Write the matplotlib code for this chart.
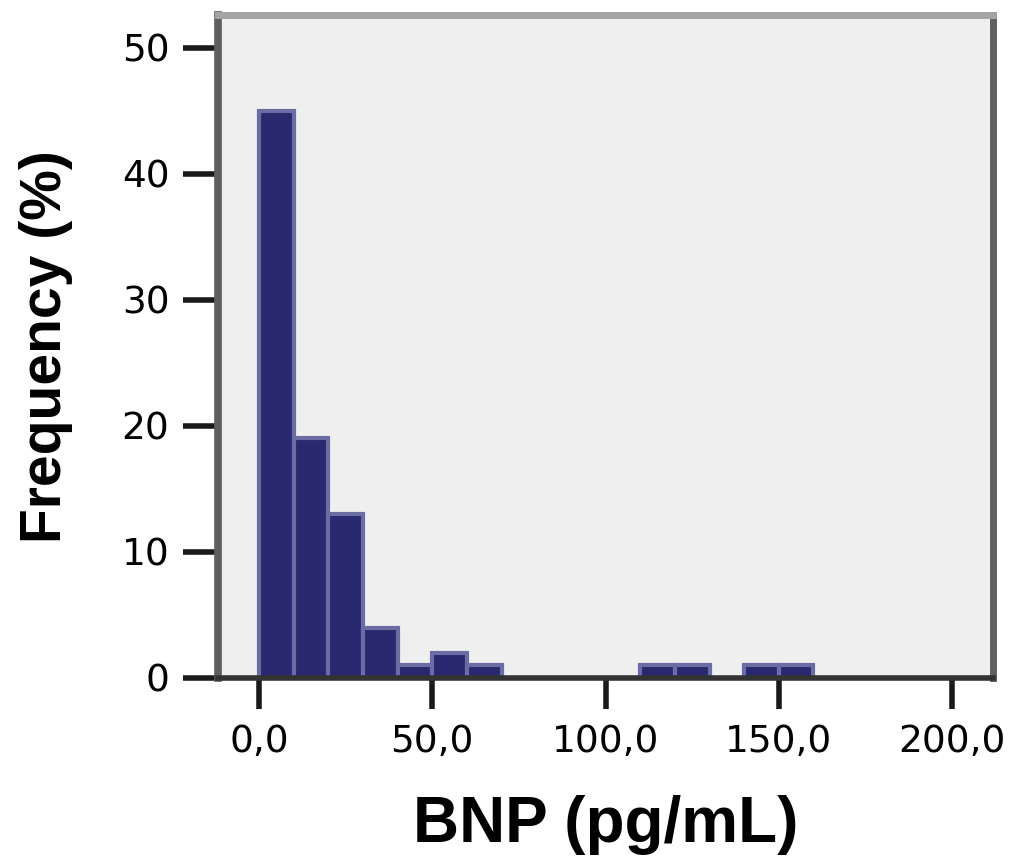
import matplotlib
matplotlib.use('Agg')
import matplotlib.pyplot as plt
import numpy as np

# BNP histogram, bins of 10 pg/mL
bin_left = [0, 10, 20, 30, 40, 50, 60, 110, 120, 140, 150]
freq_pct = [45, 19, 13, 4, 1, 2, 1, 1, 1, 1, 1]
bin_width = 10

xticks = [0, 50, 100, 150, 200]
xtick_labels = ['0,0', '50,0', '100,0', '150,0', '200,0']
yticks = [0, 10, 20, 30, 40, 50]

fig = plt.figure(figsize=(10.16, 8.57), dpi=100)
ax = fig.add_axes([0.2146, 0.2089, 0.7628, 0.7736])
ax.set_facecolor('#efefef')

ax.bar(bin_left, freq_pct, width=bin_width, align='edge',
       color='#28296e', edgecolor='#6b6ca3', linewidth=3)

ax.set_xlim(-11.8, 211.8)
ax.set_ylim(0, 52.6)

ax.set_xticks(xticks)
ax.set_xticklabels(xtick_labels)
ax.set_yticks(yticks)
ax.tick_params(axis='both', direction='out', width=4, colors='#1a1a1a',
               labelsize=27, labelcolor='black')
ax.tick_params(axis='x', length=22, pad=11)
ax.tick_params(axis='y', length=25, pad=10)

ax.spines['left'].set_color('#5e5e5e')
ax.spines['left'].set_linewidth(5.5)
ax.spines['right'].set_color('#606060')
ax.spines['right'].set_linewidth(5)
ax.spines['top'].set_color('#a4a4a4')
ax.spines['top'].set_linewidth(5)
ax.spines['bottom'].set_color('#333333')
ax.spines['bottom'].set_linewidth(4)

ax.set_xlabel('BNP (pg/mL)', fontsize=46, fontweight='bold',
              family='Liberation Sans', labelpad=25)
ax.set_ylabel('Frequency (%)', fontsize=41, fontweight='bold',
              family='Liberation Sans', labelpad=35)

fig.savefig('out.png', dpi=100)
